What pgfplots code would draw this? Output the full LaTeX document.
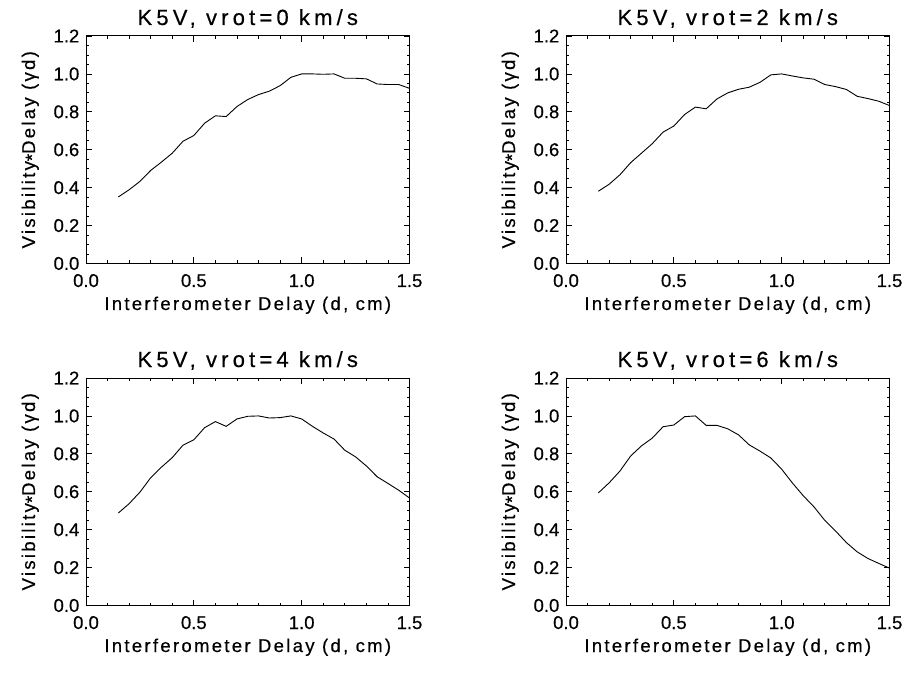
\documentclass[border=0pt]{standalone}
\usepackage{fontspec}
\setmainfont[FakeBold=0.5]{Liberation Sans}
\newfontfamily\titlefont[LetterSpace=19,FakeBold=0.5]{Liberation Sans}
\newfontfamily\labelfont[LetterSpace=12.5,FakeBold=0.5]{Liberation Sans}
\usepackage{pgfplots}
\pgfplotsset{compat=1.18}
\usetikzlibrary{calc}

\pgfplotstableread{
x y
0.15 0.351
0.20 0.389
0.25 0.433
0.30 0.491
0.35 0.535
0.40 0.582
0.45 0.645
0.50 0.675
0.55 0.740
0.60 0.779
0.65 0.775
0.70 0.828
0.75 0.865
0.80 0.891
0.85 0.909
0.90 0.938
0.95 0.982
1.00 1.000
1.05 1.000
1.10 0.998
1.15 1.000
1.20 0.977
1.25 0.977
1.30 0.974
1.35 0.947
1.40 0.944
1.45 0.944
1.50 0.924
}\tabA

\pgfplotstableread{
x y
0.15 0.381
0.20 0.418
0.25 0.468
0.30 0.532
0.35 0.582
0.40 0.632
0.45 0.693
0.50 0.725
0.55 0.786
0.60 0.825
0.65 0.816
0.70 0.868
0.75 0.900
0.80 0.919
0.85 0.930
0.90 0.956
0.95 0.995
1.00 1.000
1.05 0.989
1.10 0.979
1.15 0.972
1.20 0.944
1.25 0.933
1.30 0.918
1.35 0.882
1.40 0.870
1.45 0.856
1.50 0.833
}\tabB

\pgfplotstableread{
x y
0.15 0.488
0.20 0.537
0.25 0.598
0.30 0.674
0.35 0.730
0.40 0.780
0.45 0.846
0.50 0.874
0.55 0.938
0.60 0.970
0.65 0.945
0.70 0.984
0.75 0.998
0.80 1.000
0.85 0.989
0.90 0.991
0.95 1.000
1.00 0.984
1.05 0.945
1.10 0.910
1.15 0.878
1.20 0.819
1.25 0.784
1.30 0.736
1.35 0.679
1.40 0.644
1.45 0.608
1.50 0.567
}\tabC

\pgfplotstableread{
x y
0.15 0.594
0.20 0.647
0.25 0.709
0.30 0.789
0.35 0.842
0.40 0.883
0.45 0.943
0.50 0.952
0.55 0.996
0.60 1.000
0.65 0.950
0.70 0.950
0.75 0.932
0.80 0.900
0.85 0.847
0.90 0.814
0.95 0.778
1.00 0.719
1.05 0.646
1.10 0.579
1.15 0.520
1.20 0.449
1.25 0.393
1.30 0.332
1.35 0.283
1.40 0.248
1.45 0.222
1.50 0.197
}\tabD

\pgfplotsset{
 panel/.style={
  scale only axis, width=323.5pt, height=227.5pt,
  xmin=0, xmax=1.5, ymin=0, ymax=1.2,
  xtick={0,0.5,1,1.5}, ytick={0,0.2,0.4,0.6,0.8,1.0,1.2},
  minor x tick num=4, minor y tick num=3,
  tick align=inside,
  major tick length=6pt, minor tick length=3pt,
  axis line style={line width=1pt},
  tick style={line width=0.8pt, black},
  /pgf/number format/fixed,
  /pgf/number format/fixed zerofill,
  /pgf/number format/precision=1,
  /pgf/number format/assume math mode=true,
  ticklabel style={font=\fontsize{18.5}{20}\selectfont},
  xticklabel style={anchor=base, yshift=-23.5pt},
  yticklabel style={anchor=east, inner sep=0pt, xshift=-6.5pt},
  xlabel={Interferometer Delay (d, cm)},
  ylabel={Visibility\raisebox{-0.35ex}{*}Delay (γd)},
  label style={font=\labelfont\fontsize{18.5}{20}\selectfont},
  xlabel style={at={(axis description cs:0.5,0)}, anchor=base, yshift=-46.5pt},
  ylabel style={at={($(axis description cs:0,0.5)+(-51pt,0pt)$)}, anchor=base},
  title style={font=\titlefont\fontsize{22}{24}\selectfont, at={(axis description cs:0.5,1)}, anchor=base, yshift=5pt},
  every axis plot/.append style={line width=0.9pt, black},
 }
}

\begin{document}
\begin{tikzpicture}
\useasboundingbox (0pt,0pt) rectangle (909pt,672pt);
\begin{axis}[panel, at={(86pt,408.5pt)}, anchor=south west, title={K5V, vrot=0 km/s}]
\addplot[no marks] table[x=x,y=y] {\tabA};
\end{axis}
\begin{axis}[panel, at={(566pt,408.5pt)}, anchor=south west, title={K5V, vrot=2 km/s}]
\addplot[no marks] table[x=x,y=y] {\tabB};
\end{axis}
\begin{axis}[panel, at={(86pt,66.5pt)}, anchor=south west, title={K5V, vrot=4 km/s}]
\addplot[no marks] table[x=x,y=y] {\tabC};
\end{axis}
\begin{axis}[panel, at={(566pt,66.5pt)}, anchor=south west, title={K5V, vrot=6 km/s}]
\addplot[no marks] table[x=x,y=y] {\tabD};
\end{axis}
\end{tikzpicture}
\end{document}
